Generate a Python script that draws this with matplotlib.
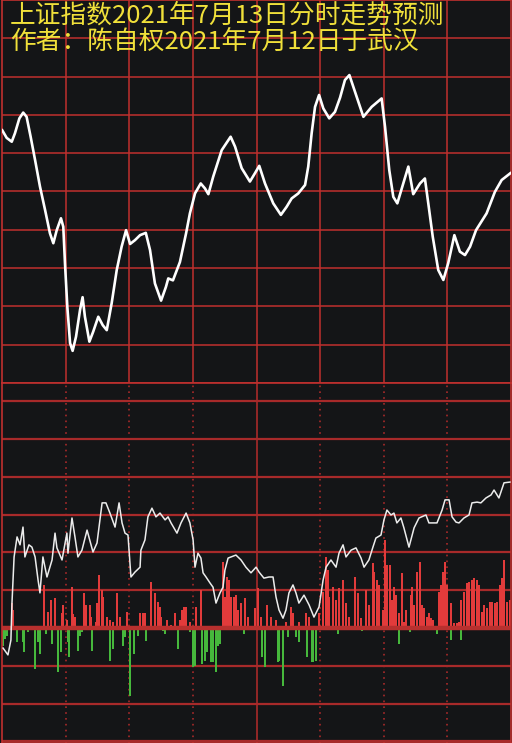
import matplotlib
matplotlib.use("Agg")
import matplotlib.pyplot as plt

plt.rcParams["font.family"] = ["Noto Sans CJK SC", "DejaVu Sans"]

# Title lines
title1 = "上证指数2021年7月13日分时走势预测"
title2 = "作者：陈自权2021年7月12日于武汉"

# Top panel: predicted intraday curve (minute, value in grid units)
pred_min = [0, 2.2, 4.6, 6.1, 8.2, 10.0, 11.6, 13.5, 15.6, 17.9, 20.3, 22.6,
            24.2, 25.8, 27.8, 28.9, 29.7, 30.8, 32.1, 33.3, 34.9, 36.8, 38.0,
            39.1, 41.2, 43.0, 45.4, 47.5, 49.4, 51.7, 54.1, 56.4, 58.5, 60.4,
            62.7, 65.1, 67.8, 69.8, 72.1, 75.0, 77.3, 78.4, 80.6, 83.9, 86.8,
            88.6, 91.0, 93.7, 95.7, 97.3, 99.6, 103.6, 107.8, 109.9, 113.0,
            116.9, 119.3, 121.3, 124.0, 127.9, 131.5, 134.2, 136.6, 139.7,
            142.9, 144.4, 146.0, 147.6, 149.5, 151.5, 154.3, 157.0, 159.4,
            161.7, 163.8, 166.4, 170.4, 174.3, 179.0, 180.6, 182.6, 184.5,
            186.4, 189.2, 191.6, 193.9, 197.1, 199.4, 201.0, 203.1, 205.7,
            208.1, 210.4, 213.3, 215.9, 218.3, 220.7, 223.5, 228.5, 232.4,
            235.6, 240.0]
pred_val = [6.61, 6.40, 6.30, 6.52, 6.91, 7.06, 6.95, 6.43, 5.82, 5.13, 4.52,
            3.91, 3.65, 3.99, 4.30, 4.08, 3.12, 1.99, 1.04, 0.84, 1.21, 1.91,
            2.24, 1.73, 1.08, 1.34, 1.73, 1.51, 1.38, 2.08, 2.95, 3.56, 3.99,
            3.63, 3.73, 3.86, 3.92, 3.47, 2.60, 2.15, 2.51, 2.73, 2.68, 3.16,
            3.91, 4.43, 4.95, 5.21, 5.08, 4.93, 5.39, 6.08, 6.43, 6.17, 5.61,
            5.26, 5.48, 5.67, 5.21, 4.69, 4.39, 4.60, 4.82, 4.95, 5.17, 5.65,
            6.52, 7.21, 7.52, 7.17, 6.91, 7.08, 7.45, 7.91, 8.04, 7.61, 6.95,
            7.21, 7.43, 6.69, 5.56, 4.86, 4.69, 5.21, 5.65, 4.93, 5.21, 5.34,
            4.69, 3.82, 2.95, 2.69, 3.13, 3.86, 3.43, 3.34, 3.56, 3.99, 4.43,
            4.99, 5.30, 5.49]

# Bottom panel: actual-style price line (minute, value in grid units)
line_min = [0.5, 2.8, 4.2, 4.7, 5.7, 7.1, 8.5, 9.9, 10.8, 12.7, 14.1, 15.6,
            17.0, 17.9, 19.3, 21.2, 23.6, 25.0, 25.9, 28.3, 30.6, 31.1, 33.0,
            34.4, 35.8, 37.7, 40.1, 42.9, 44.8, 47.2, 49.0, 50.9, 53.3, 55.2,
            56.6, 58.0, 59.4, 60.8, 62.7, 65.1, 65.5, 67.4, 68.8, 70.7, 72.6,
            74.5, 76.9, 78.3, 79.7, 82.5, 84.4, 86.8, 88.6, 90.1, 91.0, 92.4,
            93.8, 94.8, 96.2, 98.1, 99.5, 100.9, 102.8, 104.2, 105.1, 106.6,
            108.0, 110.3, 112.7, 115.0, 117.4, 119.8, 121.2, 123.5, 125.9,
            127.8, 129.2, 130.6, 132.5, 133.9, 135.3, 137.2, 138.6, 140.0,
            142.4, 144.8, 147.1, 149.5, 151.4, 152.8, 155.1, 157.5, 158.9,
            160.8, 162.2, 164.6, 166.9, 169.3, 170.7, 173.0, 174.9, 176.3,
            178.7, 180.1, 181.5, 183.4, 184.8, 186.2, 188.1, 189.5, 191.9,
            194.3, 196.6, 199.9, 201.3, 205.1, 207.5, 208.9, 210.8, 212.2,
            214.1, 215.5, 217.8, 220.2, 221.6, 224.0, 225.8, 228.2, 230.6,
            232.0, 234.3, 236.7, 239.5]
line_val = [-0.53, -0.71, -0.32, 0.66, 1.88, 2.41, 2.20, 2.67, 1.88, 2.20,
            2.14, 1.88, 1.27, 0.93, 1.88, 1.35, 1.80, 2.51, 2.12, 1.80, 2.51,
            1.98, 2.91, 2.41, 1.88, 2.06, 2.59, 2.01, 2.25, 3.31, 3.31, 3.04,
            2.67, 3.31, 2.78, 2.51, 2.46, 1.35, 1.48, 1.61, 2.06, 2.33, 2.94,
            3.17, 2.94, 3.04, 2.86, 2.94, 2.78, 2.51, 2.78, 3.04, 2.78, 2.33,
            1.61, 1.98, 1.85, 1.46, 1.35, 1.19, 1.08, 0.66, 0.93, 1.08, 1.53,
            1.85, 1.88, 1.93, 1.80, 1.61, 1.46, 1.61, 1.48, 1.32, 1.35, 1.35,
            0.82, 0.48, 0.26, 0.48, 0.93, 1.14, 0.93, 0.66, 0.87, 0.61, 0.29,
            0.56, 1.27, 1.61, 1.80, 1.61, 1.98, 2.20, 1.88, 2.06, 2.12, 1.85,
            1.61, 1.80, 2.14, 2.38, 2.46, 2.86, 3.12, 2.99, 3.04, 2.78, 2.91,
            2.65, 2.14, 2.65, 2.91, 2.99, 2.78, 2.78, 3.12, 3.39, 3.39, 2.94,
            2.80, 2.78, 2.91, 2.99, 3.31, 3.33, 3.31, 3.44, 3.52, 3.65, 3.44,
            3.84, 3.86]

# Bottom panel: buy (red) bars
red_min = [4.7, 5.2, 19.8, 21.7, 23.1, 25.0, 28.3, 28.8, 30.6, 33.0, 33.5,
           34.4, 38.7, 39.6, 41.5, 42.0, 44.3, 44.8, 45.7, 47.2, 47.6, 49.5,
           50.9, 52.3, 54.2, 55.6, 58.9, 65.1, 66.5, 67.4, 70.3, 72.1, 73.6,
           74.5, 75.0, 77.8, 79.7, 81.6, 83.9, 84.9, 85.8, 86.8, 88.6, 91.5,
           93.8, 104.2, 105.1, 106.1, 107.0, 108.0, 109.4, 110.3, 111.3, 112.7,
           114.6, 116.0, 119.3, 120.7, 122.1, 124.9, 126.8, 129.2, 133.9,
           136.3, 137.2, 140.0, 143.3, 144.8, 149.5, 151.4, 152.8, 153.7,
           154.2, 156.1, 157.5, 158.9, 160.8, 162.2, 163.6, 166.4, 167.9,
           169.3, 171.6, 173.0, 174.9, 175.4, 176.8, 177.7, 179.6, 180.6,
           181.5, 182.9, 183.9, 184.8, 185.8, 187.2, 188.6, 189.5, 190.5,
           192.8, 193.3, 194.3, 195.7, 197.1, 198.0, 199.0, 200.4, 201.3,
           202.3, 203.2, 206.0, 207.0, 207.9, 208.9, 209.8, 211.7, 213.1,
           214.5, 215.5, 216.4, 217.8, 219.2, 220.2, 221.6, 222.5, 224.0,
           224.9, 226.3, 227.3, 228.7, 230.1, 231.0, 232.4, 233.4, 234.8,
           235.8, 236.7, 238.1, 239.5]
red_val = [0.66, 0.48, 1.14, 0.42, 0.74, 0.79, 0.40, 0.61, 0.21, 1.08, 0.37,
           0.29, 0.93, 0.61, 0.61, 0.29, 0.16, 0.66, 1.40, 1.01, 0.82, 0.29,
           0.21, 0.16, 0.93, 0.29, 0.42, 0.40, 0.40, 0.40, 1.22, 0.93, 0.69,
           0.56, 0.29, 0.21, 0.08, 0.40, 0.21, 0.48, 0.56, 0.56, 0.16, 0.56,
           1.01, 1.75, 0.82, 1.35, 1.27, 0.82, 0.82, 0.87, 0.48, 0.66, 0.79,
           0.29, 0.53, 1.06, 0.29, 0.61, 0.29, 0.21, 0.16, 0.56, 0.40, 0.16,
           0.40, 0.29, 0.40, 0.95, 1.88, 1.53, 0.82, 1.08, 0.74, 1.06, 1.27,
           0.66, 0.29, 1.35, 0.93, 0.26, 1.01, 0.61, 1.72, 1.48, 1.27, 1.14,
           0.48, 2.33, 1.67, 1.67, 0.74, 1.08, 0.87, 0.40, 1.46, 0.16, 0.48,
           0.87, 1.08, 0.61, 1.48, 1.75, 0.61, 0.53, 0.29, 0.40, 0.26, 0.21,
           0.95, 1.14, 1.48, 1.75, 1.14, 0.66, 0.13, 0.13, 0.16, 0.74, 0.95,
           1.19, 1.22, 1.27, 1.32, 1.27, 1.14, 0.42, 0.61, 0.53, 0.69, 0.69,
           0.66, 0.69, 1.14, 1.32, 1.80, 0.69, 0.74]

# Bottom panel: sell (green) bars
green_min = [0.5, 1.4, 2.4, 7.1, 9.9, 10.4, 12.3, 15.6, 17.0, 17.9, 20.7, 23.6,
             26.4, 27.8, 31.1, 31.6, 35.8, 36.8, 37.7, 42.4, 50.9, 52.3, 57.1,
             58.0, 60.4, 62.2, 64.1, 67.9, 75.9, 76.9, 83.0, 88.6, 90.1, 91.0,
             94.3, 95.7, 96.7, 98.5, 99.5, 100.9, 101.8, 102.8, 114.1, 122.6,
             124.0, 130.1, 130.6, 132.5, 134.8, 138.6, 140.0, 143.8, 146.2,
             146.6, 148.1, 158.4, 169.7, 187.2, 192.4, 205.1, 211.7, 216.4]
green_val = [-0.48, -0.29, -0.21, -0.37, -0.37, -0.63, -0.11, -1.08, -0.37,
             -0.69, -0.16, -0.42, -1.16, -0.63, -0.37, -0.77, -0.61, -0.21,
             -0.11, -0.61, -0.87, -0.56, -0.48, -0.24, -1.80, -0.69, -0.21,
             -0.34, -0.08, -0.16, -0.56, -0.11, -1.03, -1.01, -0.95, -0.87,
             -0.63, -0.90, -0.90, -1.16, -0.48, -0.42, -0.16, -0.77, -1.03,
             -0.90, -0.87, -1.53, -0.24, -0.24, -0.37, -0.77, -0.90, -0.90,
             -0.87, -0.16, -0.08, -0.42, -0.11, -0.16, -0.32, -0.32]

time_grid = [30, 60, 90, 120, 150, 180, 210]

bg = "#141517"
grid_red = "#c0302e"
dark_red = "#a82a2a"

fig = plt.figure(figsize=(5.12, 7.43), dpi=100, facecolor=bg)
W, H = 512, 743
ax_top = fig.add_axes([2 / W, 1 - 383 / H, 509 / W, 383 / H])
ax_bot = fig.add_axes([2 / W, 0, 509 / W, 360 / H])

for ax in (ax_top, ax_bot):
    ax.set_facecolor(bg)
    ax.set_xlim(0, 240)
    ax.set_xticks([])
    ax.set_yticks([])
    for s in ax.spines.values():
        s.set_color(grid_red)
        s.set_linewidth(1.2)

# top panel grid
ax_top.set_ylim(0, 10)
for y in range(1, 10):
    ax_top.axhline(y, color=grid_red, lw=1.1, zorder=1)
for t in time_grid:
    ax_top.axvline(t, color=grid_red, lw=1.1, zorder=1)
ax_top.plot(pred_min, pred_val, color="white", lw=1.9,
            solid_joinstyle="round", solid_capstyle="round", zorder=3)

# bottom panel grid
ax_bot.set_ylim(-3.04, 6.48)
for y in range(-3, 7):
    if y == 0:
        continue
    ax_bot.axhline(y, color=dark_red, lw=1.6, zorder=1)
for t in time_grid:
    if t == 120:
        ax_bot.axvline(t, color=dark_red, lw=1.2, zorder=1)
    else:
        ax_bot.axvline(t, color=dark_red, lw=1.2, ls=(0, (1, 2.5)), zorder=1)

ax_bot.bar(red_min, red_val, width=1.2, color="#e23b3b", lw=0, zorder=2)
ax_bot.bar(green_min, green_val, width=1.2, color="#46b83c", lw=0, zorder=2)
ax_bot.axhline(0, color="#b8302e", lw=3.2, zorder=2.5)
ax_bot.plot(line_min, line_val, color="#ececec", lw=1.1, zorder=3)

fig.text(10 / W, 1 - 16 / H, title1, color="#f0e03a", fontsize=18.5,
         va="center", ha="left")
fig.text(10 / W, 1 - 42 / H, title2, color="#f0e03a", fontsize=18.5,
         va="center", ha="left")

fig.savefig("out.png", dpi=100, facecolor=bg)
